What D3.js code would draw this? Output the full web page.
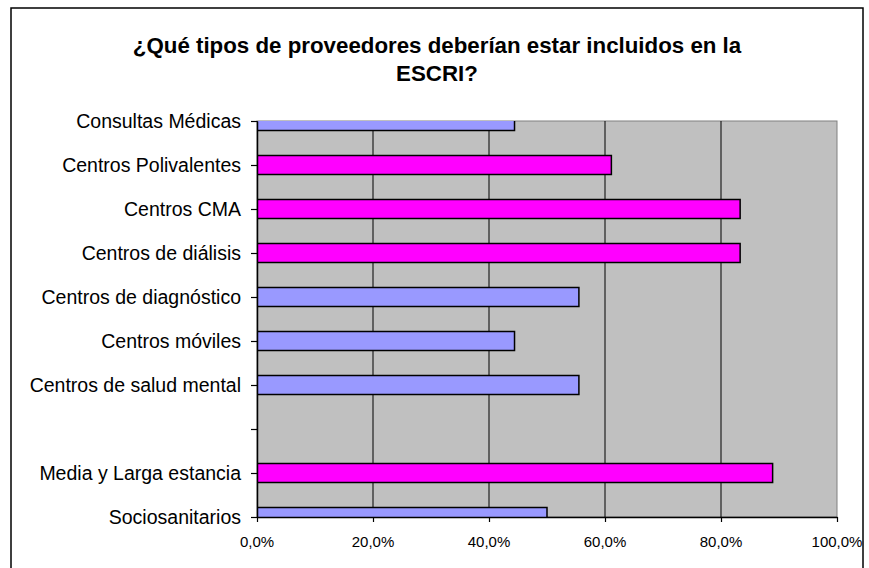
<!DOCTYPE html>
<html><head><meta charset="utf-8">
<script src="https://cdn.jsdelivr.net/npm/d3@7"></script>
<style>html,body{margin:0;padding:0;background:#fff}svg{display:block}text{font-family:Arial,"Liberation Sans",sans-serif;fill:#000}</style>
</head><body>
<script>
const titleLines = ["¿Qué tipos de proveedores deberían estar incluidos en la", "ESCRI?"];
const categories = ["Consultas Médicas","Centros Polivalentes","Centros CMA","Centros de diálisis","Centros de diagnóstico","Centros móviles","Centros de salud mental","","Media y Larga estancia","Sociosanitarios"];
const seriesBlue    = [0.444, null, null, null, 0.555, 0.444, 0.555, null, null, 0.50];
const seriesMagenta = [null, 0.611, 0.833, 0.833, null, null, null, null, 0.889, null];
const xTicks = [0, 0.2, 0.4, 0.6, 0.8, 1.0];
const xTickLabels = ["0,0%","20,0%","40,0%","60,0%","80,0%","100,0%"];

const W = 869, H = 568;
const plot = {l: 257, r: 837, t: 121, b: 517};
const svg = d3.select("body").append("svg").attr("width", W).attr("height", H);

svg.append("rect").attr("x", 11).attr("y", 8).attr("width", 852).attr("height", 620)
  .attr("fill", "#fff").attr("stroke", "#000").attr("stroke-width", 1.5);

const keys = categories.map((c, i) => i);
const x = d3.scaleLinear().domain([0, 1]).range([plot.l, plot.r]);
const y = d3.scalePoint().domain(keys).range([plot.t, plot.b]);
const barH = 19;

svg.append("defs").append("clipPath").attr("id", "pc").append("rect")
  .attr("x", plot.l).attr("y", plot.t).attr("width", plot.r - plot.l).attr("height", plot.b - plot.t);

svg.append("rect").attr("x", plot.l).attr("y", plot.t).attr("width", plot.r - plot.l).attr("height", plot.b - plot.t)
  .attr("fill", "#C0C0C0").attr("stroke", "#808080").attr("stroke-width", 1);

svg.append("g").selectAll("line").data(xTicks.slice(1, -1)).join("line")
  .attr("x1", d => x(d)).attr("x2", d => x(d)).attr("y1", plot.t).attr("y2", plot.b)
  .attr("stroke", "#000").attr("stroke-width", 1);

const bars = [];
categories.forEach((c, i) => {
  if (seriesBlue[i] != null) bars.push({i, v: seriesBlue[i], color: "#9999FF"});
  if (seriesMagenta[i] != null) bars.push({i, v: seriesMagenta[i], color: "#FF00FF"});
});
svg.append("g").attr("clip-path", "url(#pc)").selectAll("rect").data(bars).join("rect")
  .attr("x", x(0)).attr("y", d => y(d.i) - barH / 2)
  .attr("width", d => x(d.v) - x(0)).attr("height", barH)
  .attr("fill", d => d.color).attr("stroke", "#000").attr("stroke-width", 1.5);

// y axis
const yAxis = svg.append("g").attr("transform", `translate(${plot.l},0)`)
  .call(d3.axisLeft(y).tickSize(6).tickSizeOuter(0).tickFormat(""));
yAxis.select(".domain").attr("stroke", "#000").attr("stroke-width", 1.5);
yAxis.selectAll(".tick line").attr("stroke", "#000").attr("stroke-width", 1.2);
svg.append("g").selectAll("text").data(keys).join("text")
  .attr("x", plot.l - 16).attr("y", d => y(d))
  .attr("text-anchor", "end").attr("dy", "0.35em").attr("font-size", 19.5)
  .text(d => categories[d]);

// x axis
const xAxis = svg.append("g").attr("transform", `translate(0,${plot.b})`)
  .call(d3.axisBottom(x).tickValues(xTicks).tickSize(5).tickSizeOuter(0).tickFormat(""));
xAxis.select(".domain").attr("stroke", "#000").attr("stroke-width", 1.5);
xAxis.selectAll(".tick line").attr("stroke", "#000").attr("stroke-width", 1.2);
svg.append("g").selectAll("text").data(xTicks).join("text")
  .attr("x", d => x(d)).attr("y", plot.b + 30)
  .attr("text-anchor", "middle").attr("font-size", 15)
  .text((d, i) => xTickLabels[i]);

// title
svg.append("g").selectAll("text").data(titleLines).join("text")
  .attr("x", 437).attr("y", (d, i) => 53 + i * 28)
  .attr("text-anchor", "middle").attr("font-size", 22.3).attr("font-weight", "bold")
  .text(d => d);
</script>
</body></html>
